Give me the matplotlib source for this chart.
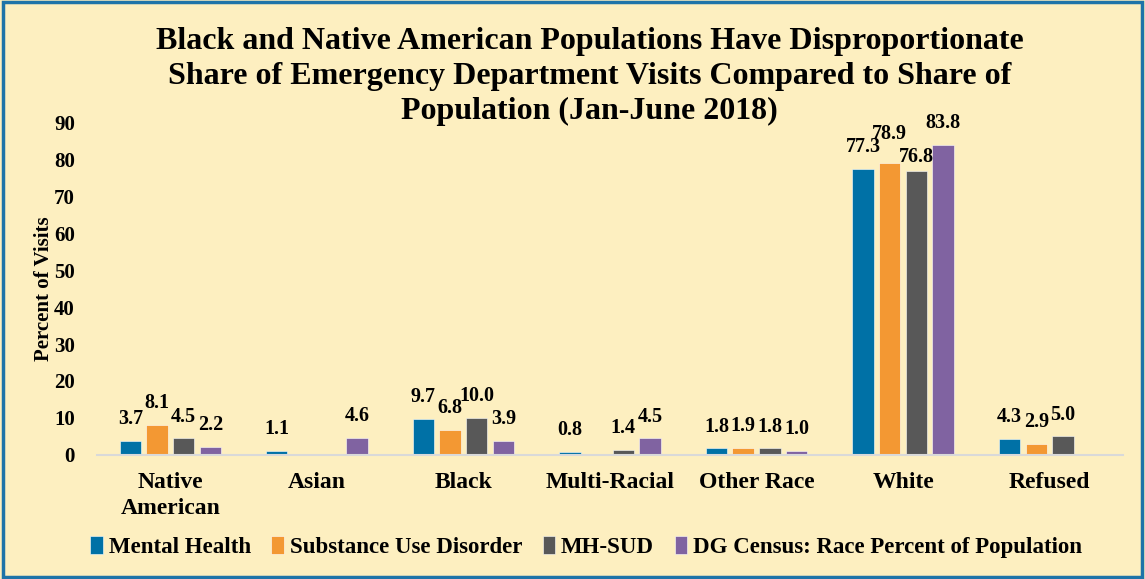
import numpy as np
import matplotlib
matplotlib.use("Agg")
import matplotlib.pyplot as plt
from matplotlib.patches import Rectangle

categories = ["Native\nAmerican", "Asian", "Black", "Multi-Racial", "Other Race", "White", "Refused"]
mental_health = [3.7, 1.1, 9.7, 0.8, 1.8, 77.3, 4.3]
substance_use = [8.1, 0.3, 6.8, 0.2, 1.9, 78.9, 2.9]
mh_sud = [4.5, 0.3, 10.0, 1.4, 1.8, 76.8, 5.0]
census = [2.2, 4.6, 3.9, 4.5, 1.0, 83.8, 0.0]

series_names = ["Mental Health", "Substance Use Disorder", "MH-SUD",
                "DG Census: Race Percent of Population"]
colors = ["#0071A6", "#F39833", "#585858", "#8063A1"]
bg = "#FDEFC0"

# small vertical nudges (points) for crowded labels over the White group
label_nudge = {(1, 5): 5, (2, 5): -6}

plt.rcParams["font.family"] = ["Liberation Serif", "DejaVu Serif"]
plt.rcParams["font.weight"] = "bold"

fig = plt.figure(figsize=(11.45, 5.79), dpi=100, facecolor=bg)
ax = fig.add_axes([0.0847, 0.2142, 0.896, 0.575])
ax.set_facecolor(bg)

x = np.arange(len(categories))
step = 0.182
width = step * 0.8
all_series = [mental_health, substance_use, mh_sud, census]
for i, vals in enumerate(all_series):
    pos = x + (i - 1.5) * step
    bars = ax.bar(pos, vals, width, color=colors[i], label=series_names[i],
                  edgecolor="white", linewidth=0.4)
    for j, (b, v) in enumerate(zip(bars, vals)):
        if v >= 0.5:
            dy = 8.5 + label_nudge.get((i, j), 0)
            ax.annotate(f"{v:.1f}", (b.get_x() + b.get_width() / 2, v),
                        xytext=(0, dy), textcoords="offset points",
                        ha="center", va="bottom", fontsize=14.5,
                        fontweight="bold", annotation_clip=False)

ax.set_xlim(-0.5, len(categories) - 0.5)
ax.set_ylim(0, 90)
ax.set_yticks(range(0, 91, 10))
ax.set_xticks(x)
ax.set_xticklabels(categories, fontsize=17, fontweight="bold", linespacing=1.35)
ax.tick_params(axis="y", length=0, labelsize=15, pad=16)
ax.tick_params(axis="x", length=0, pad=12)
for s in ["top", "right", "left"]:
    ax.spines[s].set_visible(False)
ax.spines["bottom"].set_color("#D9D9D9")
ax.spines["bottom"].set_linewidth(1.5)
ax.set_ylabel("Percent of Visits", fontsize=15, fontweight="bold", labelpad=0)

title_lines = ["Black and Native American Populations Have Disproportionate",
               "Share of Emergency Department Visits Compared to Share of",
               "Population (Jan-June 2018)"]
for k, line in enumerate(title_lines):
    fig.text(0.515, 0.928 - k * 0.0605, line, ha="center", va="center",
             fontsize=23, fontweight="bold")

leg = fig.legend(loc="center", bbox_to_anchor=(0.512, 0.055), ncol=4, frameon=False,
                 fontsize=16.5, handlelength=0.55, handleheight=0.8, handletextpad=0.25,
                 columnspacing=0.9)

fig.patches.append(Rectangle((0.003, 0.003), 0.994, 0.994, transform=fig.transFigure,
                             fill=False, edgecolor="#1E73A8", linewidth=2.5))

fig.savefig("out.png", dpi=100, facecolor=bg)
